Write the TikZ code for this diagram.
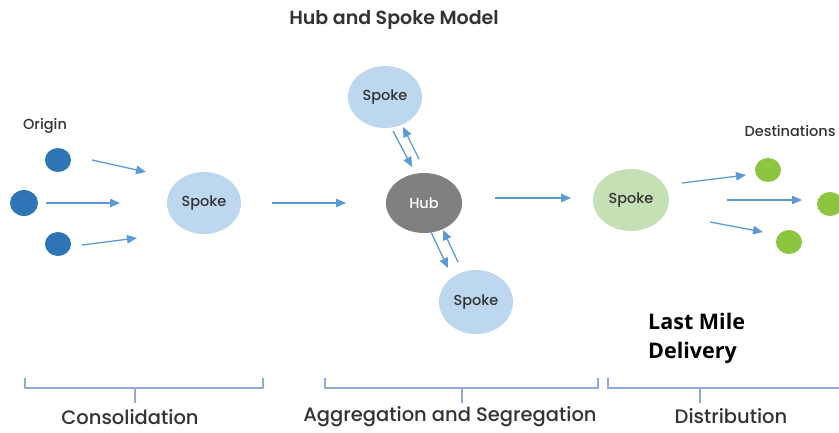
\documentclass[tikz,border=0pt]{standalone}
\usepackage{fontspec}
\setmainfont{Poppins}[UprightFont=* Medium, BoldFont=* SemiBold]
\newfontfamily\lmfont{Open Sans}
\usetikzlibrary{arrows.meta,shapes.geometric}
\definecolor{dotblue}{HTML}{2E75B6}
\definecolor{lblue}{HTML}{BDD7EE}
\definecolor{hubgray}{HTML}{808080}
\definecolor{lgreen}{HTML}{C5E0B4}
\definecolor{dotgreen}{HTML}{8CC63F}
\definecolor{arr}{HTML}{5B9BD5}
\definecolor{brk}{HTML}{8FAADC}
\definecolor{txt}{HTML}{333333}
\tikzset{
  dotbase/.style={draw=none, minimum width=26pt, minimum height=24pt, shape=ellipse, inner sep=0pt},
  odot/.style={dotbase, fill=dotblue},
  gdot/.style={dotbase, fill=dotgreen},
  spoke/.style={shape=ellipse, fill=lblue, minimum width=74pt, minimum height=62pt, inner sep=0pt, font=\fontsize{14.5}{16}\selectfont, text=txt},
  flow/.style={draw=arr, line width=1.3pt, -{Triangle[length=10pt,width=8.5pt]}},
  brace/.style={draw=brk, line width=1.1pt},
  lab/.style={font=\fontsize{19.5}{22}\selectfont, text=txt, inner sep=0pt}
}
\begin{document}
\begin{tikzpicture}[x=1pt,y=-1pt]
\useasboundingbox (0,0) rectangle (839,432);
\node[font=\bfseries\fontsize{19}{22}\selectfont, text=txt] (title) at (394,20) {Hub and Spoke Model};
\node[font=\fontsize{14.5}{16}\selectfont, text=txt] (origin) at (45,126) {Origin};
\node[font=\fontsize{14.5}{16}\selectfont, text=txt, anchor=west] (dest) at (741,131) {Destinations};
% origin dots
\node[odot] (o1) at (58,160) {};
\node[odot, minimum width=28pt, minimum height=26pt] (o2) at (24,203) {};
\node[odot] (o3) at (58,244) {};
% spokes
\node[spoke] (s1) at (204,203) {Spoke};
\node[spoke, fill=hubgray, text=white, minimum width=76pt, minimum height=60pt] (hub) at (424,203) {Hub};
\node[spoke] (st) at (385,97) {Spoke};
\node[spoke, minimum height=64pt] (sb) at (476,302) {Spoke};
\node[spoke, fill=lgreen, minimum width=76pt] (sg) at (631,200) {Spoke};
% destination dots
\node[gdot] (g1) at (768,170) {};
\node[gdot] (g2) at (830,204) {};
\node[gdot] (g3) at (789,242) {};
% arrow endpoints
\coordinate (a1s) at (92,160); \coordinate (a1e) at (146,172);
\coordinate (a2s) at (46,203); \coordinate (a2e) at (120,203);
\coordinate (a3s) at (82,245); \coordinate (a3e) at (137,238);
\coordinate (a4s) at (272,203); \coordinate (a4e) at (346,203);
\coordinate (a5s) at (495,198); \coordinate (a5e) at (571,198);
\coordinate (a6s) at (682,183); \coordinate (a6e) at (746,175);
\coordinate (a7s) at (727,200); \coordinate (a7e) at (802,200);
\coordinate (a8s) at (710,222); \coordinate (a8e) at (763,232);
\draw[flow] (a1s) -- (a1e);
\draw[flow] (a2s) -- (a2e);
\draw[flow] (a3s) -- (a3e);
\draw[flow] (a4s) -- (a4e);
\draw[flow] (a5s) -- (a5e);
\draw[flow] (a6s) -- (a6e);
\draw[flow] (a7s) -- (a7e);
\draw[flow] (a8s) -- (a8e);
% hub <-> spokes
\coordinate (t1s) at (393,131); \coordinate (t1e) at (412,167);
\coordinate (t2s) at (419,159); \coordinate (t2e) at (403,127);
\coordinate (b1s) at (431,232); \coordinate (b1e) at (448,268);
\coordinate (b2s) at (458,262); \coordinate (b2e) at (443,230);
\draw[flow] (t1s) -- (t1e);
\draw[flow] (t2s) -- (t2e);
\draw[flow] (b1s) -- (b1e);
\draw[flow] (b2s) -- (b2e);
% last mile
\node[font=\lmfont\bfseries\fontsize{21.5}{29}\selectfont, text=black, anchor=north west, align=left, inner sep=0pt] (lm) at (648,313) {Last Mile\\Delivery};
% brackets
\coordinate (k1) at (135,403);
\coordinate (k2) at (462,403);
\coordinate (k3) at (700,403);
\draw[brace] (25,378) -- (25,388) -- (263,388) -- (263,378);
\draw[brace] (k1) -- (135,388);
\draw[brace] (325,378) -- (325,388) -- (598,388) -- (598,378);
\draw[brace] (k2) -- (462,388);
\draw[brace] (608,378) -- (608,388) -- (845,388);
\draw[brace] (k3) -- (700,388);
\node[lab] (c1) at (130,417) {Consolidation};
\node[lab] (c2) at (450,417) {Aggregation and Segregation};
\node[lab] (c3) at (731,416) {Distribution};
\end{tikzpicture}
\end{document}
